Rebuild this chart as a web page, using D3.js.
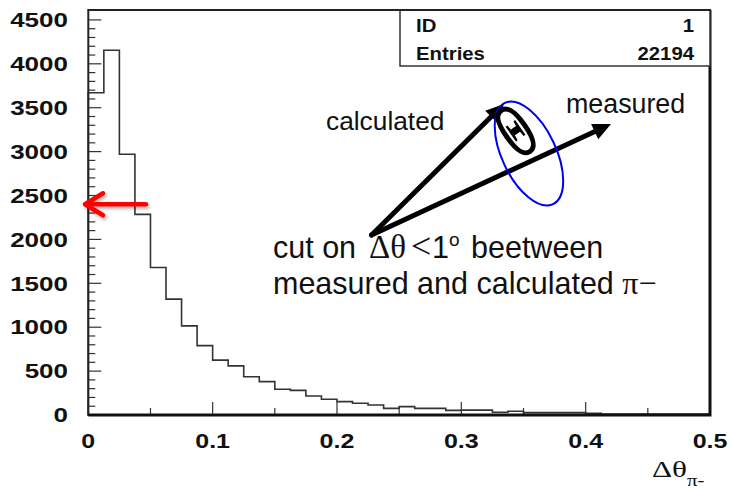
<!DOCTYPE html>
<html>
<head>
<meta charset="utf-8">
<script src="https://cdn.jsdelivr.net/npm/d3@7"></script>
<style>
  html, body { margin: 0; padding: 0; background: #fff; }
  svg { display: block; }
</style>
</head>
<body>
<div id="chart"></div>
<script>
// ---------------- data ----------------
const xRange = [0, 0.5];
const binCounts = [3670, 4155, 2970, 2285, 1680, 1320, 1015, 790, 625, 560,
                   436, 380, 293, 281, 216, 179, 152, 133, 114, 76,
                   95, 76, 76, 53, 55, 55, 32, 42, 27, 27,
                   27, 27, 20, 12, 12, 12, 12, 12, 12, 12];
const xTickValues = [0, 0.1, 0.2, 0.3, 0.4, 0.5];
const xTickLabels = ["0", "0.1", "0.2", "0.3", "0.4", "0.5"];
const yTickValues = [0, 500, 1000, 1500, 2000, 2500, 3000, 3500, 4000, 4500];
const yTickLabels = ["0", "500", "1000", "1500", "2000", "2500", "3000", "3500", "4000", "4500"];
const statsNames = ["ID", "Entries"];
const statsValues = ["1", "22194"];
const cutValue = 2400;   // red arrow marks the cut level

// ---------------- layout ----------------
const W = 732, H = 488;
const L = 88.3, R = 710, T = 10, B = 415;
const yMax = 4613;

const svg = d3.select("#chart").append("svg")
  .attr("width", W).attr("height", H)
  .attr("font-family", "'Liberation Sans', Arial, Helvetica, sans-serif");
svg.append("rect").attr("width", W).attr("height", H).attr("fill", "#fff");

const defs = svg.append("defs");
const f = defs.append("filter").attr("id", "shadow").attr("x", "-20%").attr("y", "-50%").attr("width", "140%").attr("height", "200%");
f.append("feDropShadow").attr("dx", 1.5).attr("dy", 2.5).attr("stdDeviation", 1.6)
  .attr("flood-color", "#000").attr("flood-opacity", 0.28);

const x = d3.scaleLinear().domain(xRange).range([L, R]);
const y = d3.scaleLinear().domain([0, yMax]).range([B, T]);

const nBins = binCounts.length;
const bw = (xRange[1] - xRange[0]) / nBins;

// ---------------- histogram ----------------
const pts = [[xRange[0], 0]];
binCounts.forEach((c, i) => pts.push([xRange[0] + i * bw, c]));
pts.push([xRange[1], binCounts[nBins - 1]]);
pts.push([xRange[1], 0]);
const line = d3.line().x(d => x(d[0])).y(d => y(d[1])).curve(d3.curveStepAfter);
svg.append("path").attr("d", line(pts))
  .attr("fill", "none").attr("stroke", "#333").attr("stroke-width", 1.6);

// ---------------- axes / ticks ----------------
const tickG = svg.append("g").attr("stroke", "#333").attr("stroke-width", 1.2);
d3.range(0, 4501, 100).forEach(v => {
  const major = v % 500 === 0;
  tickG.append("line").attr("x1", L).attr("x2", L + (major ? 13 : 7))
    .attr("y1", y(v)).attr("y2", y(v));
});
d3.range(0, 11).forEach(k => {
  const v = k * 0.05;
  const major = k % 2 === 0;
  tickG.append("line").attr("x1", x(v)).attr("x2", x(v))
    .attr("y1", B).attr("y2", B - (major ? 13 : 7));
});

// frame
svg.append("rect").attr("x", L).attr("y", T).attr("width", R - L).attr("height", B - T)
  .attr("fill", "none").attr("stroke", "#222").attr("stroke-width", 2);
svg.append("path").attr("d", `M${L},${B}H${R}V${T}`)
  .attr("fill", "none").attr("stroke", "#111").attr("stroke-width", 3);

// y tick labels (stretched horizontally like the reference)
yTickValues.forEach((v, i) => {
  svg.append("g").attr("transform", `translate(68,${y(v)}) scale(1.3,1)`)
    .append("text").attr("text-anchor", "end").attr("dy", "0.36em")
    .attr("font-size", 20).attr("font-weight", "bold").attr("fill", "#111")
    .text(yTickLabels[i]);
});
// x tick labels
xTickValues.forEach((v, i) => {
  svg.append("g").attr("transform", `translate(${x(v)},448) scale(1.25,1)`)
    .append("text").attr("text-anchor", "middle")
    .attr("font-size", 20).attr("font-weight", "bold").attr("fill", "#111")
    .text(xTickLabels[i]);
});

// x axis title  Δθ_{π-}
const xt = svg.append("g").attr("transform", "translate(652,477) scale(1.3,1)")
  .append("text").attr("font-family", "'Liberation Serif', 'Times New Roman', serif")
  .attr("fill", "#111");
xt.append("tspan").attr("font-size", 24).text("Δθ");
xt.append("tspan").attr("font-size", 16).attr("dy", 9).text("π-");

// ---------------- stats box ----------------
svg.append("rect").attr("x", 400).attr("y", T).attr("width", R - 400).attr("height", 56)
  .attr("fill", "#fff").attr("stroke", "#333").attr("stroke-width", 1.5);
svg.append("line").attr("x1", 400).attr("x2", R).attr("y1", T).attr("y2", T)
  .attr("stroke", "#222").attr("stroke-width", 2);
statsNames.forEach((n, i) => {
  const by = 32 + i * 28;
  svg.append("g").attr("transform", `translate(416,${by}) scale(1.13,1)`)
    .append("text").attr("font-size", 18).attr("font-weight", "bold").attr("fill", "#111").text(n);
  svg.append("g").attr("transform", `translate(694,${by}) scale(1.13,1)`)
    .append("text").attr("text-anchor", "end").attr("font-size", 18).attr("font-weight", "bold")
    .attr("fill", "#111").text(statsValues[i]);
});

// ---------------- annotations ----------------
function arrow(x1, y1, x2, y2, hl, hw, sw) {
  const dx = x2 - x1, dy = y2 - y1, len = Math.hypot(dx, dy);
  const ux = dx / len, uy = dy / len;
  const bx = x2 - ux * hl, by = y2 - uy * hl;
  svg.append("line").attr("x1", x1).attr("y1", y1).attr("x2", bx + ux * 2).attr("y2", by + uy * 2)
    .attr("stroke", "#000").attr("stroke-width", sw).attr("stroke-linecap", "round");
  svg.append("polygon")
    .attr("points", `${x2},${y2} ${bx - uy * hw},${by + ux * hw} ${bx + uy * hw},${by - ux * hw}`)
    .attr("fill", "#000");
}
const origin = [x(0.2278), y(2050)];
arrow(origin[0], origin[1], x(0.3343), y(3542), 18, 8.5, 5);
arrow(origin[0], origin[1], x(0.4204), y(3314), 18, 8.5, 5);

// blue ellipse
svg.append("ellipse")
  .attr("transform", `translate(${x(0.3544)},${y(2978)}) rotate(64.6)`)
  .attr("rx", 56).attr("ry", 27)
  .attr("fill", "none").attr("stroke", "#0000ee").attr("stroke-width", 2);

// Theta (large rotated glyph)
svg.append("text")
  .attr("transform", `translate(${x(0.3435)},${y(3240)}) rotate(-35) scale(0.55,1.1)`)
  .attr("text-anchor", "middle").attr("y", 24)
  .attr("font-family", "'Liberation Serif', 'Times New Roman', serif")
  .attr("font-size", 72).attr("fill", "#000").attr("stroke", "#000").attr("stroke-width", 1.8)
  .text("Θ");

// labels
svg.append("text").attr("x", 326).attr("y", 130).attr("font-size", 26.3).attr("fill", "#111").text("calculated");
svg.append("text").attr("x", 566).attr("y", 113).attr("font-size", 26.8).attr("fill", "#111").text("measured");

const serif = "'Liberation Serif', 'Times New Roman', serif";
const t1 = svg.append("text").attr("y", 258).attr("font-size", 30.5).attr("fill", "#111");
t1.append("tspan").attr("x", 273).text("cut on");
t1.append("tspan").attr("x", 369).attr("font-family", serif).attr("font-size", 33).text("Δθ");
t1.append("tspan").attr("x", 411).attr("font-family", serif).attr("font-size", 36).text("<");
t1.append("tspan").attr("x", 432).text("1");
t1.append("tspan").attr("x", 449).attr("font-size", 19).attr("dy", -12).text("o");
t1.append("tspan").attr("x", 471).attr("dy", 12).text("beetween");

const t2 = svg.append("text").attr("x", 273).attr("y", 294).attr("font-size", 30.5).attr("fill", "#111");
t2.append("tspan").text("measured and calculated ");
t2.append("tspan").attr("font-family", serif).attr("font-size", 32).text("π−");

// red arrow at the cut level
const ry0 = y(cutValue);
const rg = svg.append("g").attr("filter", "url(#shadow)")
  .attr("stroke", "#ff0000").attr("stroke-width", 4.5).attr("fill", "none")
  .attr("stroke-linecap", "round").attr("stroke-linejoin", "round");
rg.append("line").attr("x1", 146).attr("x2", 86).attr("y1", ry0).attr("y2", ry0);
rg.append("path").attr("d", `M103,${ry0 - 11}L85,${ry0}L103,${ry0 + 11}`);
</script>
</body>
</html>
